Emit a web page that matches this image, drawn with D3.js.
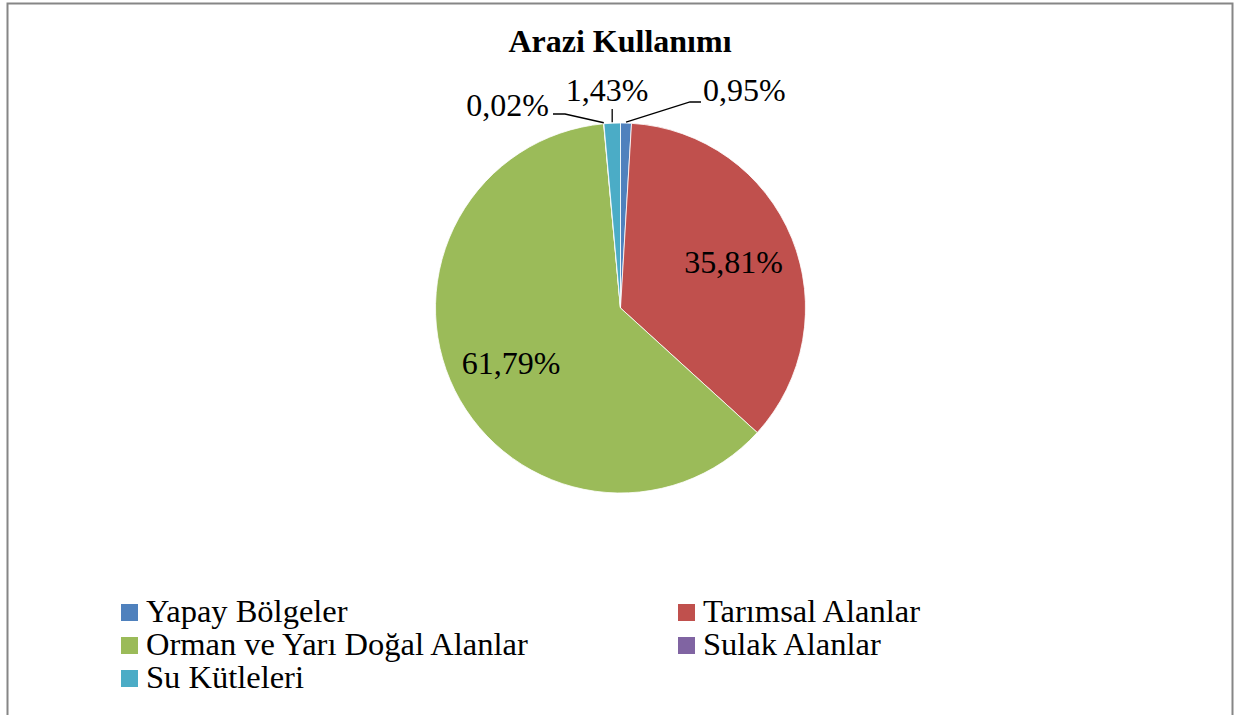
<!DOCTYPE html>
<meta charset="utf-8">
<head>
  <style>
    body { margin: 0; background: white; }
    text { font-family: "Liberation Serif", "Times New Roman", serif; }
  </style>
  <script src="https://cdn.jsdelivr.net/npm/d3@7"></script>
</head>
<body>
<script>
  const categories = ["Yapay Bölgeler", "Tarımsal Alanlar", "Orman ve Yarı Doğal Alanlar", "Sulak Alanlar", "Su Kütleleri"];
  const values = [0.95, 35.81, 61.79, 0.02, 1.43];
  const labels = ["0,95%", "35,81%", "61,79%", "0,02%", "1,43%"];
  const colors = ["#4F81BD", "#C0504D", "#9BBB59", "#8064A2", "#4BACC6"];

  const W = 1237, H = 715;
  const cx = 620.5, cy = 308, r = 185;

  const svg = d3.create("svg:svg")
    .attr("width", W)
    .attr("height", H)
    ;
  d3.select("body").append(() => svg.node());

  // frame (bottom edge runs off the picture)
  svg.append("path")
    .attr("d", "M7.5," + (H + 5) + " V3.5 H1232.5 V" + (H + 5))
    .attr("fill", "none")
    .attr("stroke", "#868686")
    .attr("stroke-width", 2);

  svg.append("text")
    .attr("x", 620)
    .attr("y", 52)
    .attr("text-anchor", "middle")
    .style("font-weight", "bold")
    .style("font-size", "32px")
    .text("Arazi Kullanımı");

  const data = categories.map((c, i) => ({name: c, value: values[i], label: labels[i], color: colors[i]}));

  const pie = d3.pie().sort(null).value(d => d.value);
  const arcs = pie(data);
  const arc = d3.arc().innerRadius(0).outerRadius(r);

  const g = svg.append("g").attr("transform", "translate(" + cx + "," + cy + ")");
  g.selectAll("path.slice").data(arcs).enter().append("path")
    .attr("class", "slice")
    .attr("d", arc)
    .attr("fill", d => d.data.color)
    .attr("stroke", "white")
    .attr("stroke-width", 0.8);

  // labels inside for big slices, outside with leader lines for small ones
  const inner = d3.arc().innerRadius(r * 0.66).outerRadius(r * 0.66);
  function edge(d) {
    const a = (d.startAngle + d.endAngle) / 2;
    return [cx + Math.sin(a) * r, cy - Math.cos(a) * r];
  }
  const outside = {
    "0,95%": {x: 703, y: 101, anchor: "start", path: (p) => [[p[0], p[1] - 1], [690, 102], [701, 102]]},
    "1,43%": {x: 607, y: 101, anchor: "middle", path: (p) => [[p[0], p[1] - 1], [p[0], 109]]},
    "0,02%": {x: 549, y: 116, anchor: "end", path: (p) => [[p[0], p[1] - 1], [565, 114], [553, 114]]}
  };

  arcs.forEach(d => {
    const o = outside[d.data.label];
    if (o) {
      svg.append("path")
        .attr("d", d3.line()(o.path(edge(d))))
        .attr("fill", "none")
        .attr("stroke", "black")
        .attr("stroke-width", 1.3);
      svg.append("text")
        .attr("x", o.x).attr("y", o.y)
        .attr("text-anchor", o.anchor)
        .style("font-size", "32px")
        .text(d.data.label);
    } else {
      const c = inner.centroid(d);
      g.append("text")
        .attr("x", c[0]).attr("y", c[1])
        .attr("dy", "0.35em")
        .attr("text-anchor", "middle")
        .style("font-size", "32px")
        .text(d.data.label);
    }
  });

  // legend, two columns
  const legend = svg.append("g");
  data.forEach((d, i) => {
    const col = i % 2, row = Math.floor(i / 2);
    const x = col === 0 ? 121 : 678;
    const y = 622 + row * 33;
    legend.append("rect")
      .attr("x", x).attr("y", y - 18)
      .attr("width", 17).attr("height", 17)
      .attr("fill", d.color);
    legend.append("text")
      .attr("x", x + 25).attr("y", y)
      .style("font-size", "32.5px")
      .text(d.name);
  });
</script>
</body>
</html>
